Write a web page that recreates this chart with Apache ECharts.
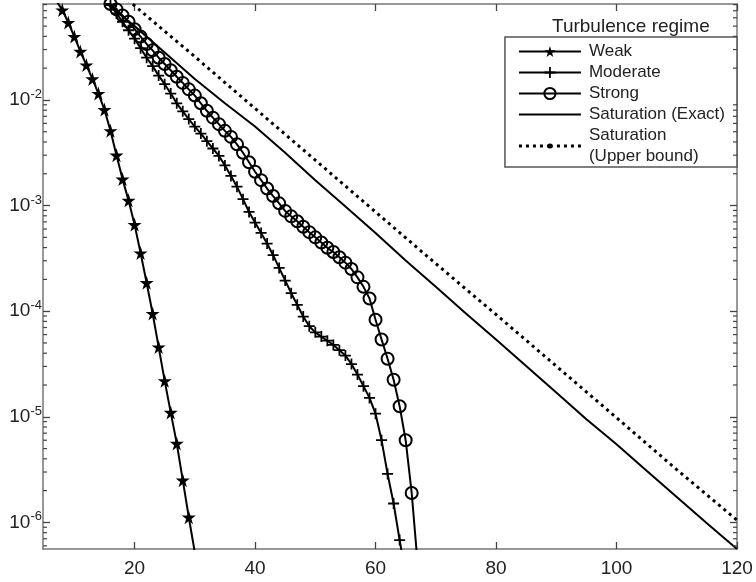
<!doctype html>
<html>
<head>
<meta charset="UTF-8">
<title>Turbulence regime</title>
<script src="https://cdn.jsdelivr.net/npm/echarts@6/dist/echarts.min.js"></script>
<style>
  html, body { margin: 0; padding: 0; background: #fff; }
  #chart { width: 756px; height: 582px; }
</style>
</head>
<body>
<div id="chart"></div>
<script>
// x positions and values
var weakX = [7, 8, 9, 10, 11, 12, 13, 14, 15, 16, 17, 18, 19, 20, 21, 22, 23, 24, 25, 26, 27, 28, 29, 30];
var weakY = [8.7e-2, 7.1e-2, 5.4e-2, 3.98e-2, 2.88e-2, 2.14e-2, 1.58e-2, 1.15e-2, 8.1e-3, 5.1e-3, 3.0e-3, 1.78e-3,
  1.12e-3, 6.6e-4, 3.55e-4, 1.86e-4, 9.5e-5, 4.57e-5, 2.19e-5, 1.10e-5, 5.6e-6, 2.51e-6, 1.12e-6, 5.2e-7];

var moderateX = [15, 16, 17, 18, 19, 20, 21, 22, 23, 24, 25, 26, 27, 28, 29, 30, 31, 32, 33, 34, 35, 36, 37, 38, 39, 40,
  41, 42, 43, 44, 45, 46, 47, 48, 49, 50, 51, 52, 53, 54, 55, 56, 57, 58, 59, 60, 61, 62, 63, 64, 65];
var moderateY = [9.5e-2, 7.9e-2, 6.6e-2, 5.5e-2, 4.57e-2, 3.8e-2, 3.09e-2, 2.51e-2, 2.09e-2, 1.70e-2, 1.41e-2, 1.15e-2,
  9.3e-3, 7.8e-3, 6.6e-3, 5.6e-3, 4.8e-3, 4.07e-3, 3.47e-3, 2.95e-3, 2.40e-3, 1.91e-3, 1.51e-3, 1.15e-3, 8.7e-4, 6.9e-4,
  5.5e-4, 4.37e-4, 3.39e-4, 2.57e-4, 1.95e-4, 1.48e-4, 1.15e-4, 8.9e-5, 7.2e-5, 6.3e-5, 5.75e-5, 5.25e-5, 4.79e-5,
  4.27e-5, 3.8e-5, 3.16e-5, 2.51e-5, 1.95e-5, 1.51e-5, 1.07e-5, 6.0e-6, 2.88e-6, 1.51e-6, 6.8e-7, 3.2e-7];

var strongX = [16, 17, 18, 19, 20, 21, 22, 23, 24, 25, 26, 27, 28, 29, 30, 31, 32, 33, 34, 35, 36, 37, 38, 39, 40, 41,
  42, 43, 44, 45, 46, 47, 48, 49, 50, 51, 52, 53, 54, 55, 56, 57, 58, 59, 60, 61, 62, 63, 64, 65, 66, 67];
var strongY = [8.1e-2, 7.2e-2, 6.3e-2, 5.5e-2, 4.68e-2, 3.98e-2, 3.39e-2, 2.95e-2, 2.51e-2, 2.19e-2, 1.91e-2, 1.66e-2,
  1.45e-2, 1.26e-2, 1.10e-2, 9.3e-3, 7.9e-3, 6.8e-3, 5.9e-3, 5.1e-3, 4.47e-3, 3.8e-3, 3.16e-3, 2.57e-3, 2.09e-3,
  1.74e-3, 1.45e-3, 1.23e-3, 1.05e-3, 8.9e-4, 7.9e-4, 7.1e-4, 6.3e-4, 5.6e-4, 5.0e-4, 4.47e-4, 3.98e-4, 3.63e-4,
  3.24e-4, 2.88e-4, 2.51e-4, 2.09e-4, 1.70e-4, 1.32e-4, 8.3e-5, 5.4e-5, 3.55e-5, 2.24e-5, 1.26e-5, 6.0e-6, 1.9e-6, 4.0e-7];

var exactX = [15, 20, 25, 30, 35, 40, 45, 50, 55, 60, 65, 70, 75, 80, 85, 90, 95, 100, 105, 110, 115, 120];
var exactY = [8.5e-2, 5.0e-2, 2.82e-2, 1.58e-2, 9.3e-3, 5.6e-3, 3.16e-3, 1.74e-3, 9.8e-4, 5.5e-4, 3.02e-4, 1.70e-4,
  9.5e-5, 5.4e-5, 3.02e-5, 1.70e-5, 9.5e-6, 5.5e-6, 3.09e-6, 1.74e-6, 9.8e-7, 5.6e-7];

var upperX = [10, 20, 30, 40, 50, 60, 70, 80, 90, 100, 110, 120];
var upperY = [2.4e-1, 7.8e-2, 2.57e-2, 8.3e-3, 2.69e-3, 8.7e-4, 2.82e-4, 9.3e-5, 3.02e-5, 9.8e-6, 3.16e-6, 1.05e-6];

var seriesNames = ['Weak', 'Moderate', 'Strong', 'Saturation (Exact)', 'Saturation\n(Upper bound)'];
var xTicks = [20, 40, 60, 80, 100, 120];
var yLabelTicks = [1e-6, 1e-5, 1e-4, 1e-3, 1e-2];

var xMin = 4.8, xMax = 120;
var yMin = 5.6e-7, yMax = 0.081;

function pairs(xs, ys) {
  var out = [];
  for (var i = 0; i < xs.length; i++) out.push([xs[i], ys[i]]);
  return out;
}

// minor ticks of a log axis: 2..9 x 10^n
var yMinorTicks = [];
for (var p = -7; p <= -1; p++) {
  for (var m = 2; m <= 9; m++) {
    var v = m * Math.pow(10, p);
    if (v >= yMin && v <= yMax) yMinorTicks.push([xMin, v]);
  }
}

var starPath = 'path://M50,0 L61,35 L98,35 L68,57 L79,91 L50,70 L21,91 L32,57 L2,35 L39,35 Z';
var plusPath = 'path://M42,0 H58 V42 H100 V58 H58 V100 H42 V58 H0 V42 H42 Z';
var linePath = 'path://M0,0 H62 V2 H0 Z';
var dotLinePath = 'path://M0,1 h3 v3 h-3 Z M7,1 h3 v3 h-3 Z M14,1 h3 v3 h-3 Z M21,1 h3 v3 h-3 Z ' +
  'M28,2.5 a3,2.5 0 1,0 6,0 a3,2.5 0 1,0 -6,0 Z ' +
  'M38,1 h3 v3 h-3 Z M45,1 h3 v3 h-3 Z M52,1 h3 v3 h-3 Z M59,1 h3 v3 h-3 Z';

var axisGray = '#777';
var tickGray = '#444';
var fontFam = 'Liberation Sans, Arial, sans-serif';

var myChart = echarts.init(document.getElementById('chart'), null, { renderer: 'canvas' });

var majorTick = { show: true, inside: true, length: 7, lineStyle: { color: tickGray, width: 1.3 } };

var option = {
  animation: false,
  backgroundColor: '#fff',
  title: {
    text: 'Turbulence regime',
    left: 547,
    top: 12,
    textStyle: { fontFamily: fontFam, fontSize: 19, fontWeight: 'normal', color: '#222' }
  },
  legend: {
    orient: 'vertical',
    right: 19,
    top: 37,
    padding: [4, 12, 0, 13],
    itemGap: 0,
    itemWidth: 62,
    itemHeight: 14,
    symbolKeepAspect: true,
    backgroundColor: '#fff',
    borderColor: '#555',
    borderWidth: 1.5,
    borderRadius: 0,
    textStyle: { fontFamily: fontFam, fontSize: 17, color: '#222', lineHeight: 21, padding: [0, 0, 0, 3] },
    data: [
      { name: seriesNames[0] },
      { name: seriesNames[1] },
      { name: seriesNames[2] },
      { name: seriesNames[3], icon: linePath },
      { name: seriesNames[4], icon: dotLinePath }
    ]
  },
  grid: { left: 43, right: 19, top: 4, bottom: 33 },
  xAxis: [{
    type: 'value',
    min: xMin,
    max: xMax,
    axisLine: { show: true, onZero: false, lineStyle: { color: axisGray, width: 1.5 } },
    axisTick: echarts.util.merge({ customValues: xTicks }, majorTick),
    axisLabel: { customValues: xTicks, margin: 10, fontFamily: fontFam, fontSize: 19, color: '#222' },
    splitLine: { show: false }
  }, {
    type: 'value',
    position: 'top',
    min: xMin,
    max: xMax,
    axisLine: { show: true, onZero: false, lineStyle: { color: axisGray, width: 1.5 } },
    axisTick: echarts.util.merge({ customValues: xTicks }, majorTick),
    axisLabel: { show: false },
    splitLine: { show: false }
  }],
  yAxis: [{
    type: 'log',
    logBase: 10,
    min: yMin,
    max: yMax,
    axisLine: { show: true, onZero: false, lineStyle: { color: axisGray, width: 1.5 } },
    axisTick: echarts.util.merge({ customValues: yLabelTicks }, majorTick),
    axisLabel: {
      customValues: yLabelTicks,
      margin: 1,
      formatter: function (val) {
        return '{b|10}{s|' + Math.round(Math.log10(val)) + '}';
      },
      rich: {
        b: { fontFamily: fontFam, fontSize: 19, color: '#222' },
        s: { fontFamily: fontFam, fontSize: 13, color: '#222', verticalAlign: 'bottom', padding: [0, 0, 11, 0] }
      }
    },
    splitLine: { show: false }
  }, {
    type: 'log',
    logBase: 10,
    position: 'right',
    min: yMin,
    max: yMax,
    axisLine: { show: true, onZero: false, lineStyle: { color: axisGray, width: 1.5 } },
    axisTick: echarts.util.merge({ customValues: yLabelTicks }, majorTick),
    axisLabel: { show: false },
    splitLine: { show: false }
  }],
  series: [{
    name: seriesNames[0],
    type: 'line',
    data: pairs(weakX, weakY),
    symbol: starPath,
    symbolSize: 14,
    showAllSymbol: true,
    itemStyle: { color: '#000' },
    lineStyle: { color: '#000', width: 2 }
  }, {
    name: seriesNames[1],
    type: 'line',
    data: pairs(moderateX, moderateY),
    symbol: plusPath,
    symbolSize: 11,
    showAllSymbol: true,
    itemStyle: { color: '#000' },
    lineStyle: { color: '#000', width: 2 }
  }, {
    name: seriesNames[2],
    type: 'line',
    data: pairs(strongX, strongY),
    symbol: 'circle',
    symbolSize: 12,
    showAllSymbol: true,
    itemStyle: { color: 'rgba(0,0,0,0)', borderColor: '#000', borderWidth: 2 },
    lineStyle: { color: '#000', width: 2 }
  }, {
    name: seriesNames[3],
    type: 'line',
    data: pairs(exactX, exactY),
    symbol: 'none',
    itemStyle: { color: '#000' },
    lineStyle: { color: '#000', width: 2 }
  }, {
    name: seriesNames[4],
    type: 'line',
    data: pairs(upperX, upperY),
    symbol: 'circle',
    symbolSize: 5,
    showSymbol: false,
    itemStyle: { color: '#000' },
    lineStyle: { color: '#000', width: 3, type: [3, 4] }
  }, {
    // minor log ticks on the left and right edges
    type: 'custom',
    silent: true,
    clip: false,
    z: 5,
    data: yMinorTicks,
    renderItem: function (params, api) {
      var a = api.coord([xMin, api.value(1)]);
      var b = api.coord([xMax, api.value(1)]);
      var st = { stroke: tickGray, lineWidth: 1.2 };
      return { type: 'group', children: [
        { type: 'line', shape: { x1: a[0], y1: a[1], x2: a[0] + 4, y2: a[1] }, style: st },
        { type: 'line', shape: { x1: b[0], y1: b[1], x2: b[0] - 4, y2: b[1] }, style: st }
      ] };
    }
  }]
};

myChart.setOption(option);
</script>
</body>
</html>
